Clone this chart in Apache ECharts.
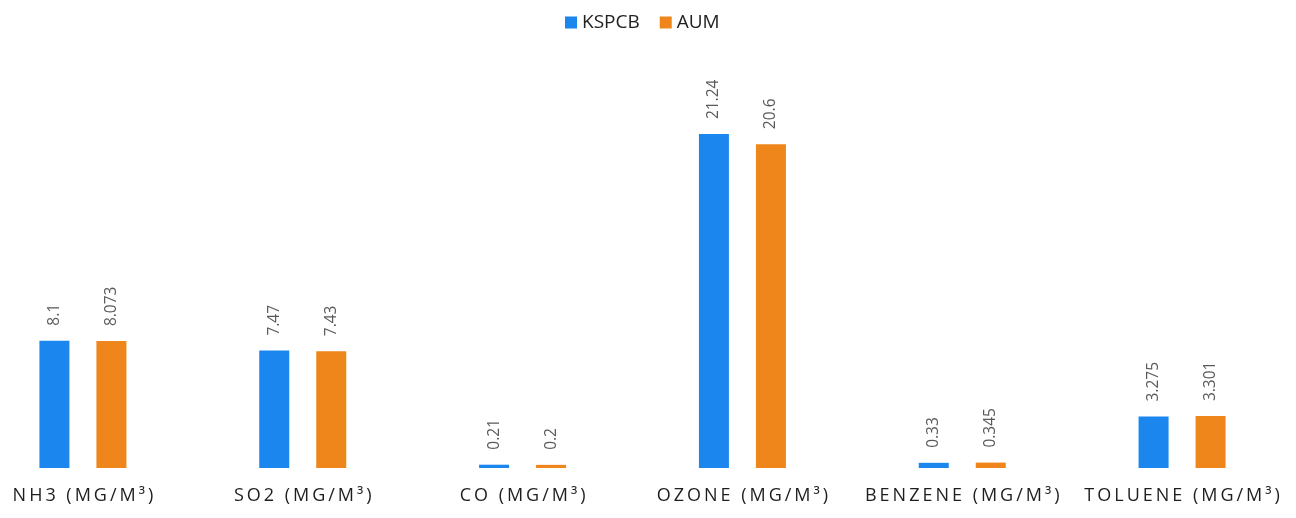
<!DOCTYPE html>
<html>
<head>
<meta charset="utf-8">
<script src="https://cdn.jsdelivr.net/npm/echarts@6/dist/echarts.min.js"></script>
<style>
  html, body { margin: 0; padding: 0; background: #ffffff; overflow: hidden; }
  #wrap { width: 1296px; height: 518px; overflow: hidden; position: relative; }
  #chart { width: 1323px; height: 518px; position: absolute; left: -27px; top: 0; }
</style>
</head>
<body>
<div id="wrap"><div id="chart"></div></div>
<script>
// Pollutant categories and measured concentrations
const categories = ['NH3 (MG/M³)', 'SO2 (MG/M³)', 'CO (MG/M³)', 'OZONE (MG/M³)', 'BENZENE (MG/M³)', 'TOLUENE (MG/M³)'];
const kspcbValues = [8.1, 7.47, 0.21, 21.24, 0.33, 3.275];
const aumValues = [8.073, 7.43, 0.2, 20.6, 0.345, 3.301];

const chart = echarts.init(document.getElementById('chart'));

// widen category labels with thin spaces between characters
const spaced = s => Array.from(s).join('\u2009');

const valueLabel = {
  show: true,
  position: 'top',
  rotate: 90,
  align: 'left',
  verticalAlign: 'middle',
  distance: 15,
  color: '#5a5a5a',
  fontSize: 15.5,
  fontFamily: 'Open Sans',
  formatter: p => String(p.value)
};

chart.setOption({
  animation: false,
  backgroundColor: '#ffffff',
  legend: {
    top: 8,
    left: 587,
    itemWidth: 12,
    itemHeight: 12,
    itemGap: 20,
    icon: 'rect',
    textStyle: { fontSize: 19, color: '#222', fontFamily: 'Open Sans' },
    data: ['KSPCB', 'AUM']
  },
  grid: { left: 0, right: 4, top: 75, bottom: 50, containLabel: false },
  xAxis: {
    type: 'category',
    data: categories,
    axisLine: { show: false },
    axisTick: { show: false },
    axisLabel: {
      interval: 0,
      hideOverlap: false,
      margin: 19,
      fontSize: 18,
      color: '#1e1e1e',
      fontFamily: 'Open Sans',
      formatter: v => spaced(v)
    }
  },
  yAxis: {
    type: 'value',
    min: 0,
    max: 25,
    show: false,
    splitLine: { show: false }
  },
  series: [
    {
      name: 'KSPCB',
      type: 'bar',
      data: kspcbValues,
      barWidth: 30,
      barGap: '90%',
      itemStyle: { color: '#1a86ee' },
      label: valueLabel
    },
    {
      name: 'AUM',
      type: 'bar',
      data: aumValues,
      barWidth: 30,
      itemStyle: { color: '#ee861c' },
      label: valueLabel
    }
  ]
});
</script>
</body>
</html>
